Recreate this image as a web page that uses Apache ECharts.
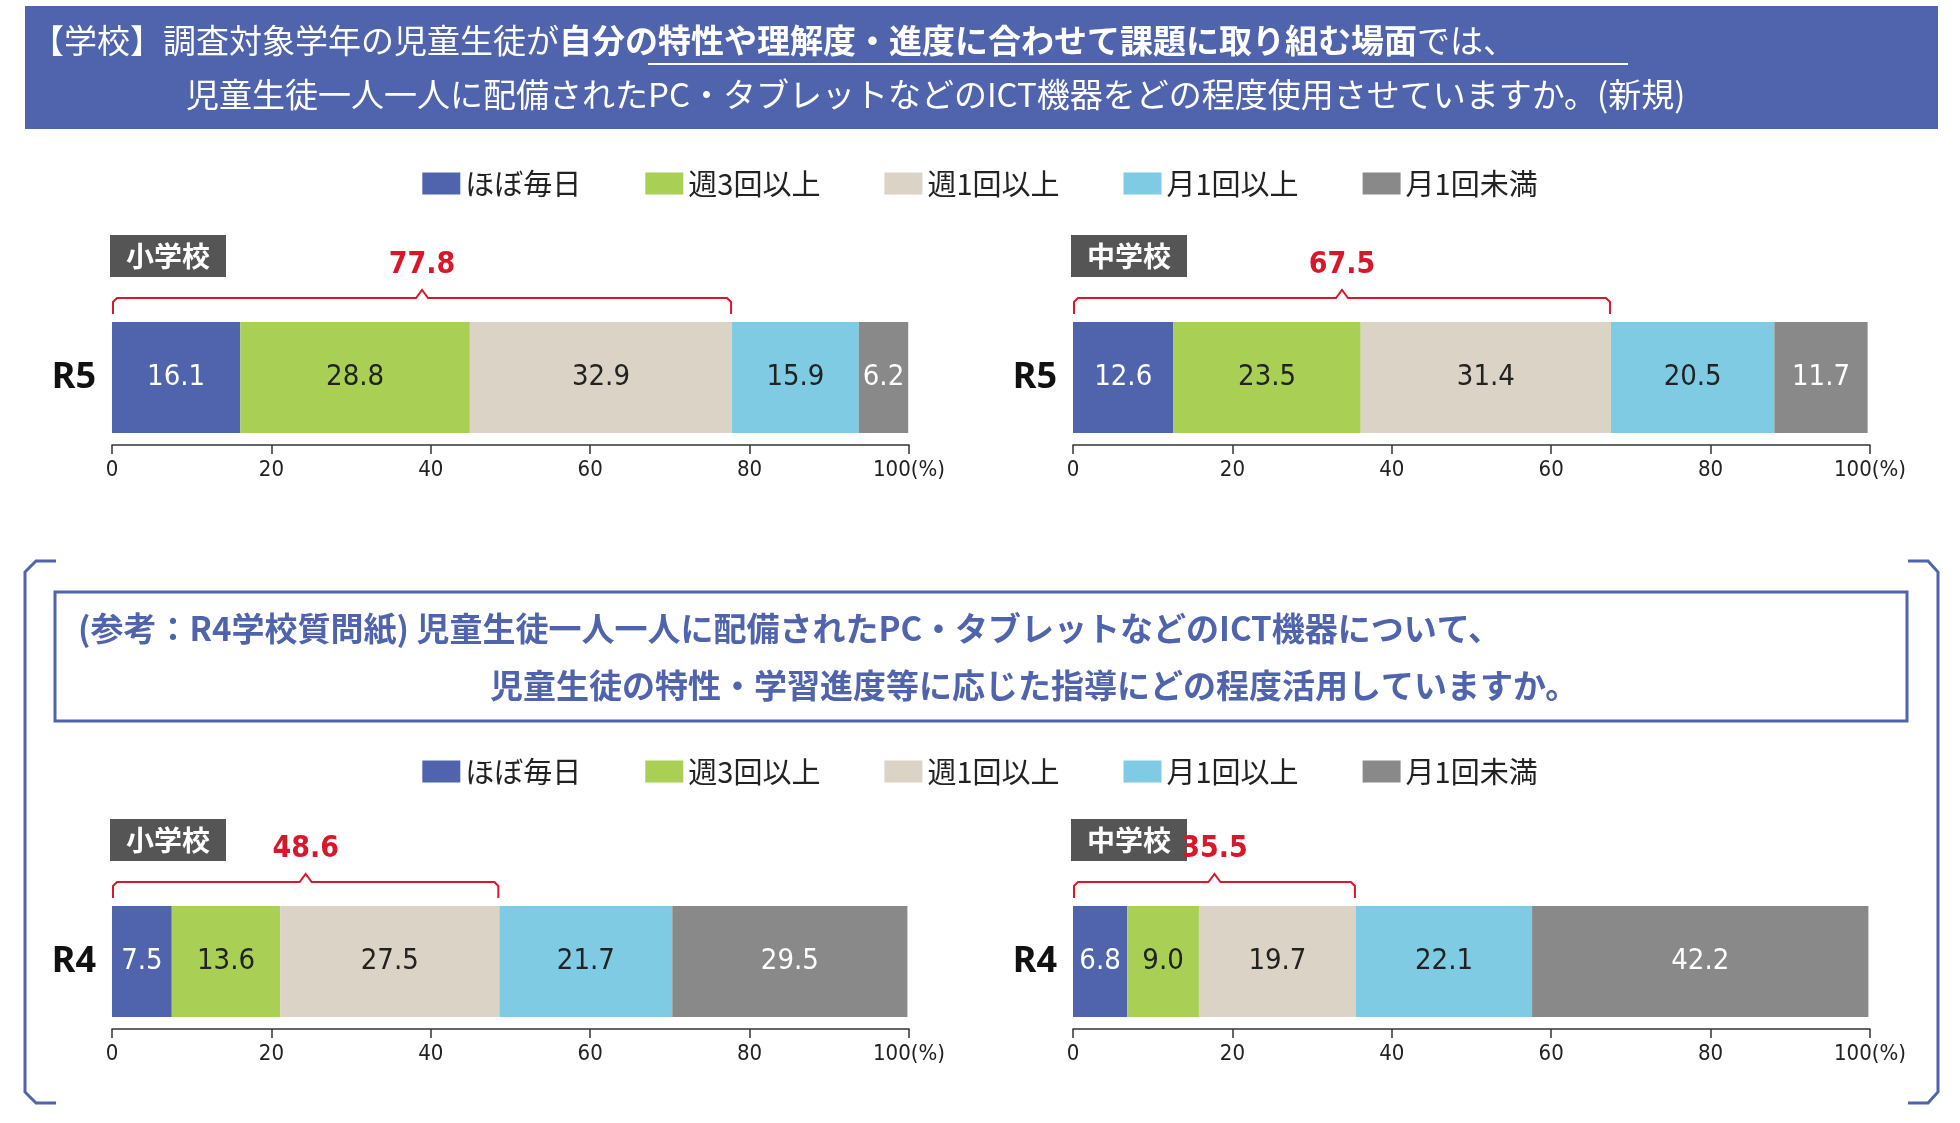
<!DOCTYPE html>
<html><head><meta charset="utf-8">
<script src="https://cdn.jsdelivr.net/npm/echarts@6/dist/echarts.min.js"></script>
<style>html,body{margin:0;padding:0;background:#fff}#c{width:1960px;height:1123px}</style>
</head><body><div id="c"></div>
<script>
const categories = ['ほぼ毎日','週3回以上','週1回以上','月1回以上','月1回未満'];
const colors = ['#5064ae','#a9cf54','#dbd4c6','#7fcbe3','#898989'];
const labelColors = ['#fff','#222','#222','#222','#fff'];
const r5Elem = [16.1,28.8,32.9,15.9,6.2];
const r5Junior = [12.6,23.5,31.4,20.5,11.7];
const r4Elem = [7.5,13.6,27.5,21.7,29.5];
const r4Junior = [6.8,9.0,19.7,22.1,42.2];
const bracketTotals = ['77.8','67.5','48.6','35.5'];
const xTicks = [0,20,40,60,80,100];

const font = '"Noto Sans CJK JP","Noto Sans",sans-serif';
const numFont = '"DejaVu Sans Condensed","Noto Sans",sans-serif';
const panels = [
  {data:r5Elem, cat:'R5', left:112, top:322, school:'小学校'},
  {data:r5Junior, cat:'R5', left:1073, top:322, school:'中学校'},
  {data:r4Elem, cat:'R4', left:112, top:906, school:'小学校'},
  {data:r4Junior, cat:'R4', left:1073, top:906, school:'中学校'}
];
const W = 797, H = 111;
const grid=[],xAxis=[],yAxis=[],series=[];
panels.forEach((p,i)=>{
  grid.push({left:p.left,top:p.top,width:W,height:H});
  xAxis.push({gridIndex:i,type:'value',min:0,max:100,interval:20,offset:12,
    axisLine:{show:true,lineStyle:{color:'#333',width:1.5}},
    axisTick:{show:true,length:9,inside:false,lineStyle:{color:'#333',width:1.5}},
    splitLine:{show:false},
    axisLabel:{color:'#222',fontSize:22,fontFamily:numFont,margin:14,
      formatter:v=>v===100?'100(%)':String(v)}});
  yAxis.push({gridIndex:i,type:'category',data:[p.cat],
    axisLine:{show:false},axisTick:{show:false},
    axisLabel:{color:'#111',fontSize:36,fontWeight:'bold',fontFamily:'"Noto Sans",sans-serif',margin:16}});
  categories.forEach((c,k)=>{
    series.push({name:c,type:'bar',stack:'s'+i,xAxisIndex:i,yAxisIndex:i,barWidth:H,
      data:[p.data[k]],itemStyle:{color:colors[k]},
      label:{show:true,position:'inside',color:labelColors[k],fontSize:29,fontFamily:numFont,
        formatter:d=>d.value.toFixed(1)},
      emphasis:{disabled:true},animation:false});
  });
});
const legendBase = {data:categories,itemWidth:38,itemHeight:22,itemGap:64,left:'center',
  textStyle:{fontSize:29,color:'#222',fontFamily:font},icon:'rect',selectedMode:false};

const chart = echarts.init(document.getElementById('c'));
chart.setOption({animation:false,grid,xAxis,yAxis,series,
  legend:[Object.assign({top:164},legendBase),Object.assign({top:752},legendBase)]});

const g = [];
// title band
g.push({type:'rect',shape:{x:25,y:6,width:1913,height:123},style:{fill:'#5064ae'}});
g.push({type:'text',style:{x:31,y:40,verticalAlign:'middle',fill:'#fff',font:'33px '+font,
  rich:{b:{fontWeight:'bold',fontSize:33,fill:'#fff',fontFamily:font}},
  text:'【学校】調査対象学年の児童生徒が{b|自分の特性や理解度・進度に合わせて課題に取り組む場面}では、'}});
g.push({type:'rect',shape:{x:648,y:63,width:980,height:2},style:{fill:'#fff'}});
g.push({type:'text',style:{x:186,y:94,verticalAlign:'middle',fill:'#fff',font:'33px '+font,
  text:'児童生徒一人一人に配備されたPC・タブレットなどのICT機器をどの程度使用させていますか。(新規)'}});
// outer brackets
g.push({type:'polyline',shape:{points:[[56,561],[36,561],[25,572],[25,1092],[36,1103],[56,1103]]},style:{stroke:'#5064ae',lineWidth:3,fill:null}});
g.push({type:'polyline',shape:{points:[[1908,561],[1928,561],[1938,572],[1938,1092],[1928,1103],[1908,1103]]},style:{stroke:'#5064ae',lineWidth:3,fill:null}});
g.push({type:'rect',shape:{x:55,y:592,width:1852,height:129},style:{fill:'#fff',stroke:'#5064ae',lineWidth:3}});
g.push({type:'text',style:{x:78,y:628,verticalAlign:'middle',fill:'#5064ae',font:'bold 33px '+font,
  text:'(参考：R4学校質問紙) 児童生徒一人一人に配備されたPC・タブレットなどのICT機器について、'}});
g.push({type:'text',style:{x:490,y:685,verticalAlign:'middle',fill:'#5064ae',font:'bold 33px '+font,
  text:'児童生徒の特性・学習進度等に応じた指導にどの程度活用していますか。'}});
// school labels and brackets
panels.forEach((p,i)=>{
  const ly = p.top - 87;
  g.push({type:'rect',shape:{x:p.left-2,y:ly,width:116,height:42},style:{fill:'#555'}});
  g.push({type:'text',style:{x:p.left+56,y:ly+21,align:'center',verticalAlign:'middle',fill:'#fff',font:'bold 28px '+font,text:p.school}});
  const sum = p.data[0]+p.data[1]+p.data[2];
  const x0 = chart.convertToPixel({xAxisIndex:i},0);
  const x1 = chart.convertToPixel({xAxisIndex:i},sum);
  const xm = (x0+x1)/2, by = p.top-24;
  g.push({type:'polyline',shape:{points:[[x0+1,p.top-8],[x0+1,by+4],[x0+5,by],[xm-6,by],[xm,by-8],[xm+6,by],[x1-5,by],[x1-1,by+4],[x1-1,p.top-8]]},
    style:{stroke:'#d7182a',lineWidth:2,fill:null}});
  g.push({type:'text',style:{x:xm,y:p.top-57,align:'center',verticalAlign:'middle',fill:'#d7182a',font:'bold 30px '+numFont,text:bracketTotals[i]}});
});
chart.setOption({graphic:g});
</script></body></html>
